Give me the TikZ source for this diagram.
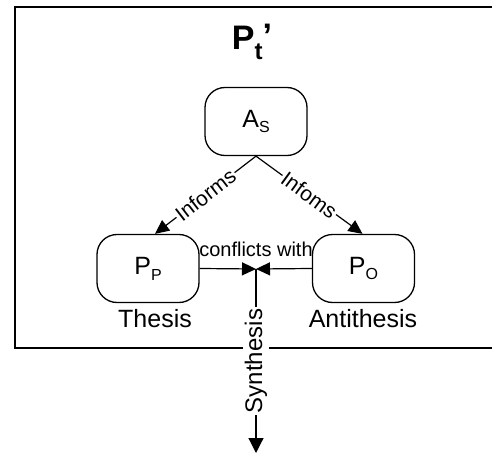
\documentclass[tikz,border=0pt]{standalone}
\usepackage{fontspec}
\setmainfont{Liberation Sans}
\usetikzlibrary{arrows.meta}
\newcommand{\fs}[1]{\fontsize{#1}{#1}\selectfont}
\newcommand{\lowsub}[1]{\raisebox{-0.45ex}{\fs{16}#1}}
\begin{document}
\begin{tikzpicture}[x=1pt,y=-1pt,
  box/.style={draw,line width=1.3pt,rounded corners=20pt,minimum width=102pt,minimum height=68pt,inner sep=0pt,font=\fs{25}},
  conn/.style={line width=1.2pt,-{Triangle[length=14pt,width=13pt]}},
  lbl/.style={font=\fs{25},inner sep=1pt},
  elbl/.style={font=\fs{21},fill=white,inner sep=1.5pt},
  frame/.style={line width=1.2pt}]
\useasboundingbox (0,0) rectangle (492,454);
% frame (open on the right)
\coordinate (ftr) at (492,7);
\coordinate (ftl) at (15,7);
\coordinate (fbl) at (15,348);
\coordinate (fbr) at (492,348);
\draw[frame] (ftr) -- (ftl) -- (fbl) -- (fbr);
% title
\node[font=\fs{34}\bfseries,inner sep=0pt] (title) at (252,42) {P\raisebox{-0.55ex}{\fs{24}t}\raisebox{0.15ex}{’}};
% boxes
\node[box] (AS) at (256,121.5) {A\lowsub{S}};
\node[box] (PP) at (148,268.5) {P\lowsub{P}};
\node[box] (PO) at (363.5,268.5) {P\lowsub{O}};
\node[lbl] (th) at (155,319) {Thesis};
\node[lbl] (anti) at (363,319) {Antithesis};
% junction
\coordinate (c) at (256,269);
\coordinate (end) at (256,453);
% informs arrows
\draw[conn] (AS.south) -- node[elbl,sloped,pos=0.5] {Informs} ([xshift=7pt]PP.north);
\draw[conn] (AS.south) -- node[elbl,sloped,pos=0.5] {Infoms} ([xshift=-1pt]PO.north);
% conflict arrows
\draw[conn] (PP.east) -- (c);
\draw[conn] (PO.west) -- (c);
\node[font=\fs{20},inner sep=0pt] (cw) at (256,249) {conflicts with};
% synthesis
\draw[conn,-{Triangle[length=15pt,width=15pt]}] (c) -- node[elbl,font=\fs{24},rotate=90,pos=0.5,inner sep=2pt] {Synthesis} (end);
\end{tikzpicture}
\end{document}
